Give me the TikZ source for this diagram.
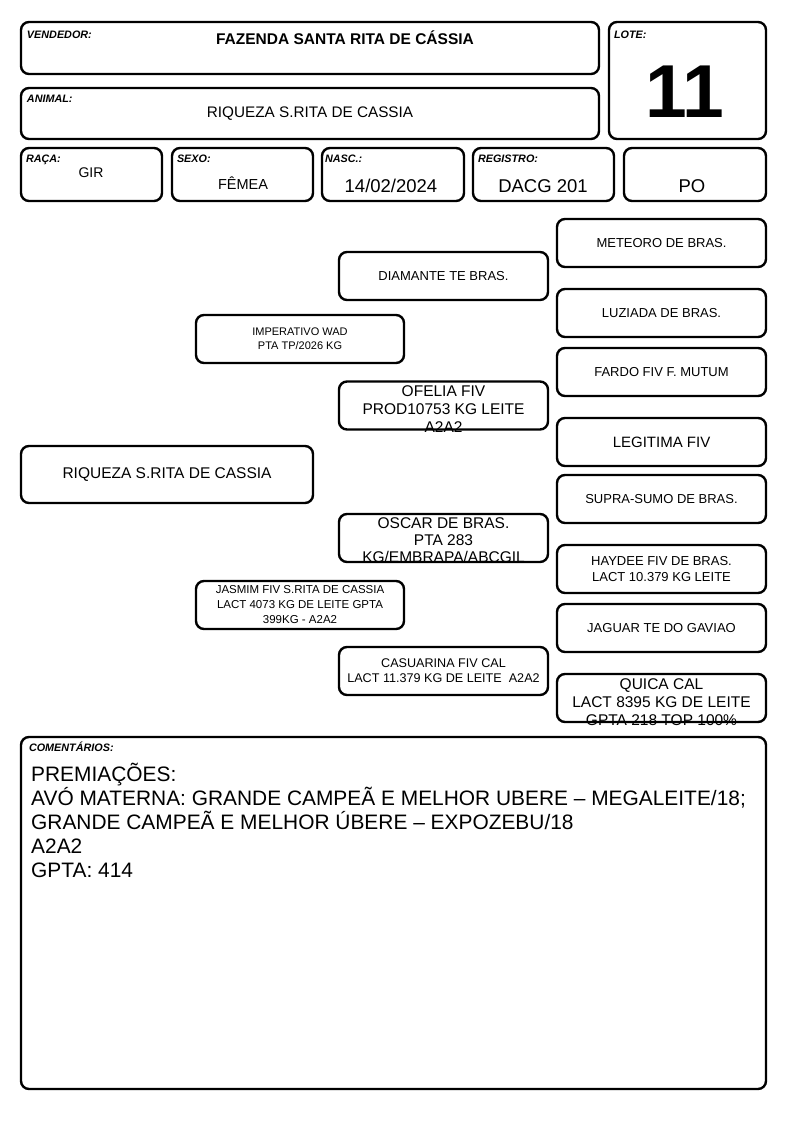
\documentclass[tikz,border=0pt]{standalone}
\usepackage{fontspec}
\setmainfont{Liberation Sans}
\usetikzlibrary{positioning}
\newcommand{\fsz}[2]{\fontsize{#1}{#2}\selectfont}

\begin{document}
\begin{tikzpicture}[x=1pt,y=-1pt,
    card/.style={draw, line width=2.4pt, rounded corners=8pt, inner sep=0pt, align=center},
    ped/.style={card, minimum width=209pt, minimum height=48pt},
    field/.style={anchor=base west, inner sep=0pt, font=\bfseries\itshape\fsz{10.8}{12}},
    value/.style={inner sep=0pt, align=center}]
  \useasboundingbox (0,0) rectangle (794,1123);
  % header boxes
  \node[card, minimum width=578pt, minimum height=52pt] (vendedor) at (310,48) {};
  \node[card, minimum width=578pt, minimum height=51pt] (animal) at (310,113.5) {};
  \node[card, minimum width=157pt, minimum height=117pt] (lote) at (687.5,80.5) {};
  \node[card, minimum width=141pt, minimum height=53pt] (raca) at (91.5,174.5) {};
  \node[card, minimum width=141pt, minimum height=53pt] (sexo) at (242.5,174.5) {};
  \node[card, minimum width=142pt, minimum height=53pt] (nasc) at (393,174.5) {};
  \node[card, minimum width=141pt, minimum height=53pt] (registro) at (543.5,174.5) {};
  \node[card, minimum width=142pt, minimum height=53pt] (categoria) at (695,174.5) {};
  % field labels
  \node[field] (vendedorlbl) at ([shift={(7,18)}]vendedor.north west) {VENDEDOR:};
  \node[field] (animallbl) at ([shift={(7,16)}]animal.north west) {ANIMAL:};
  \node[field] (lotelbl) at ([shift={(6,18)}]lote.north west) {LOTE:};
  \node[field] (racalbl) at ([shift={(6,16)}]raca.north west) {RAÇA:};
  \node[field] (sexolbl) at ([shift={(6,16)}]sexo.north west) {SEXO:};
  \node[field] (nasclbl) at ([shift={(4,16)}]nasc.north west) {NASC.:};
  \node[field] (registrolbl) at ([shift={(6,16)}]registro.north west) {REGISTRO:};
  % field values
  \node[value, font=\bfseries\fsz{15.5}{18}] (vendedortxt) at (345,38) {FAZENDA SANTA RITA DE CÁSSIA};
  \node[value, font=\fsz{15.3}{18}] (animaltxt) at (310,114) {RIQUEZA S.RITA DE CASSIA};
  \node[value, font=\bfseries\fsz{75}{80}] (lotetxt) at (685,92) {11};
  \node[value, font=\fsz{14}{16}] (racatxt) at (91,172.5) {GIR};
  \node[value, font=\fsz{14.5}{16}] (sexotxt) at (243,183.5) {FÊMEA};
  \node[value, font=\fsz{18.5}{20}] (nasctxt) at (391,186) {14/02/2024};
  \node[value, font=\fsz{18.5}{20}] (registrotxt) at (543,186) {DACG 201};
  \node[value, font=\fsz{18.5}{20}] (categoriatxt) at (692,186) {PO};
  % pedigree: animal, parents, grandparents
  \node[card, minimum width=292pt, minimum height=57pt, font=\fsz{15.5}{18}] (riqueza) at (167,474.5) {RIQUEZA S.RITA DE CASSIA};
  \node[ped, minimum width=208pt, font=\fsz{11}{14}] (imperativo) at (300,339) {IMPERATIVO WAD\\PTA TP/2026 KG};
  \node[ped, minimum width=208pt, font=\fsz{11.5}{15}] (jasmim) at (300,605) {JASMIM FIV S.RITA DE CASSIA\\LACT 4073 KG DE LEITE GPTA\\399KG - A2A2};
  \node[ped, font=\fsz{13}{15}] (diamante) at (443.5,276) {DIAMANTE TE BRAS.};
  \node[ped] (ofelia) at (443.5,405.5) {};
  \node[value, font=\fsz{15.5}{18}] (ofeliatxt) at ([yshift=-3.5pt]ofelia.center) {OFELIA FIV\\PROD10753 KG LEITE\\A2A2};
  \node[ped] (oscar) at (443.5,538) {};
  \node[value, font=\fsz{15.5}{17}] (oscartxt) at ([yshift=-2pt]oscar.center) {OSCAR DE BRAS.\\PTA 283\\KG/EMBRAPA/ABCGIL};
  \node[ped, font=\fsz{12.6}{15}] (casuarina) at (443.5,671) {CASUARINA FIV CAL\\LACT 11.379 KG DE LEITE\ \ A2A2};
  % great-grandparents
  \node[ped, font=\fsz{13}{15}] (meteoro) at (661.5,243) {METEORO DE BRAS.};
  \node[ped, font=\fsz{13}{15}] (luziada) at (661.5,313) {LUZIADA DE BRAS.};
  \node[ped, font=\fsz{13}{15}] (fardo) at (661.5,372) {FARDO FIV F. MUTUM};
  \node[ped, font=\fsz{15}{17}] (legitima) at (661.5,442) {LEGITIMA FIV};
  \node[ped, font=\fsz{13}{15}] (supra) at (661.5,499) {SUPRA-SUMO DE BRAS.};
  \node[ped, font=\fsz{13}{16}] (haydee) at (661.5,569) {HAYDEE FIV DE BRAS.\\LACT 10.379 KG LEITE};
  \node[ped, font=\fsz{13}{15}] (jaguar) at (661.5,628) {JAGUAR TE DO GAVIAO};
  \node[ped] (quica) at (661.5,698) {};
  \node[value, font=\fsz{15.5}{18}] (quicatxt) at ([yshift=-4pt]quica.center) {QUICA CAL\\LACT 8395 KG DE LEITE\\GPTA 218 TOP 100\%};
  % comments
  \node[card, minimum width=745pt, minimum height=352pt] (comentarios) at (393.5,913) {};
  \node[field] (comentarioslbl) at ([shift={(9,16)}]comentarios.north west) {COMENTÁRIOS:};
  \node[value, anchor=north west, align=left, font=\fsz{20.9}{24}] (comentariostxt) at (31,763) {PREMIAÇÕES:\\AVÓ MATERNA: GRANDE CAMPEÃ E MELHOR UBERE – MEGALEITE/18;\\GRANDE CAMPEÃ E MELHOR ÚBERE – EXPOZEBU/18\\A2A2\\GPTA: 414};
\end{tikzpicture}
\end{document}
